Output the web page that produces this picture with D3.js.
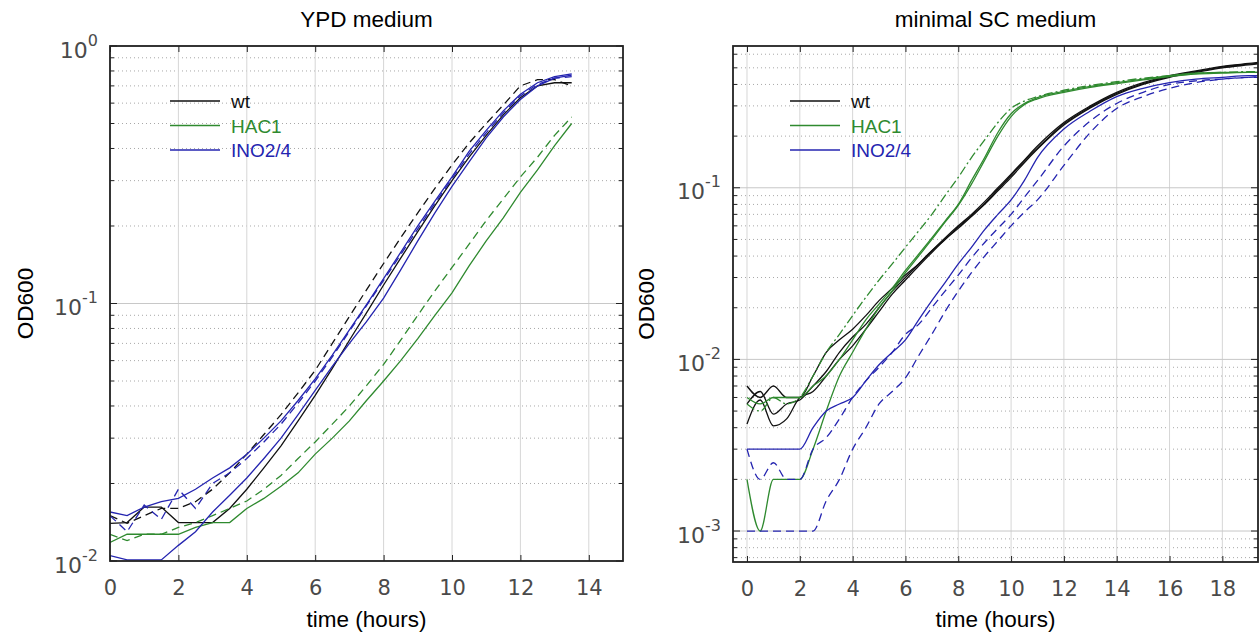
<!DOCTYPE html>
<html>
<head>
<meta charset="utf-8">
<script src="https://cdn.jsdelivr.net/npm/d3@7"></script>
<style>
  body { margin: 0; background: #fff; }
  svg text { font-family: "Liberation Sans", Arial, sans-serif; }
  .tick text { font-family: "DejaVu Sans", sans-serif; fill: #4a4a4a; }
</style>
</head>
<body>
<div id="chart"></div>
<script>
// ---- YPD medium (left panel) ----
const ypdTime = [0, 0.5, 1, 1.5, 2, 2.5, 3, 3.5, 4, 4.5, 5, 5.5, 6, 6.5, 7, 7.5, 8, 8.5, 9, 9.5, 10, 10.5, 11, 11.5, 12, 12.5, 13, 13.5];
const ypdWtSolid = [0.014, 0.0141, 0.0162, 0.0162, 0.0141, 0.0141, 0.0141, 0.016, 0.019, 0.023, 0.028, 0.035, 0.044, 0.056, 0.072, 0.092, 0.118, 0.15, 0.19, 0.24, 0.3, 0.37, 0.45, 0.54, 0.63, 0.7, 0.72, 0.72];
const ypdWtDashed = [0.015, 0.014, 0.015, 0.016, 0.016, 0.017, 0.019, 0.022, 0.026, 0.031, 0.037, 0.045, 0.055, 0.07, 0.089, 0.113, 0.143, 0.18, 0.225, 0.28, 0.345, 0.42, 0.5, 0.59, 0.7, 0.74, 0.74, 0.7];
const ypdHacSolid = [0.0118, 0.0127, 0.0127, 0.0127, 0.0127, 0.0135, 0.0141, 0.0141, 0.016, 0.0175, 0.0195, 0.022, 0.026, 0.03, 0.035, 0.042, 0.05, 0.06, 0.073, 0.09, 0.11, 0.14, 0.175, 0.215, 0.27, 0.33, 0.41, 0.5];
const ypdHacDashed = [0.0127, 0.012, 0.0127, 0.0127, 0.0135, 0.0141, 0.015, 0.016, 0.0171, 0.019, 0.0215, 0.025, 0.029, 0.034, 0.04, 0.048, 0.058, 0.072, 0.09, 0.112, 0.138, 0.17, 0.21, 0.255, 0.31, 0.37, 0.45, 0.53];
const ypdInoSolidA = [0.0105, 0.0101, 0.0101, 0.0101, 0.0115, 0.013, 0.0155, 0.018, 0.021, 0.025, 0.03, 0.037, 0.046, 0.057, 0.07, 0.085, 0.105, 0.135, 0.175, 0.225, 0.285, 0.355, 0.44, 0.53, 0.62, 0.7, 0.75, 0.77];
const ypdInoSolidB = [0.0155, 0.015, 0.0162, 0.017, 0.0175, 0.019, 0.021, 0.023, 0.026, 0.03, 0.035, 0.042, 0.051, 0.063, 0.079, 0.099, 0.125, 0.158, 0.2, 0.25, 0.31, 0.39, 0.47, 0.56, 0.65, 0.72, 0.76, 0.78];
const ypdInoDashed = [0.015, 0.013, 0.0165, 0.0145, 0.019, 0.016, 0.02, 0.022, 0.025, 0.029, 0.034, 0.041, 0.05, 0.062, 0.078, 0.098, 0.123, 0.155, 0.195, 0.245, 0.305, 0.38, 0.46, 0.55, 0.64, 0.71, 0.75, 0.76];

// ---- minimal SC medium (right panel) ----
const scTime = [0, 0.5, 1, 1.5, 2, 2.5, 3, 3.5, 4, 4.5, 5, 5.5, 6, 6.5, 7, 7.5, 8, 8.5, 9, 9.5, 10, 10.5, 11, 12, 13, 14, 15, 16, 17, 18, 19, 19.5];
const scWtA = [0.007, 0.006, 0.007, 0.006, 0.006, 0.008, 0.011, 0.013, 0.015, 0.018, 0.022, 0.026, 0.031, 0.036, 0.043, 0.051, 0.06, 0.07, 0.083, 0.1, 0.12, 0.145, 0.175, 0.24, 0.3, 0.36, 0.41, 0.45, 0.48, 0.51, 0.53, 0.54];
const scWtB = [0.0042, 0.0058, 0.0041, 0.0045, 0.006, 0.0065, 0.008, 0.01, 0.012, 0.015, 0.019, 0.024, 0.029, 0.035, 0.042, 0.05, 0.058, 0.068, 0.08, 0.096, 0.115, 0.14, 0.168, 0.232, 0.292, 0.35, 0.4, 0.44, 0.47, 0.5, 0.52, 0.53];
const scWtC = [0.0055, 0.0065, 0.0048, 0.0055, 0.0058, 0.007, 0.0085, 0.011, 0.0135, 0.016, 0.02, 0.025, 0.03, 0.036, 0.043, 0.05, 0.059, 0.069, 0.081, 0.098, 0.118, 0.143, 0.17, 0.236, 0.296, 0.355, 0.405, 0.445, 0.475, 0.505, 0.525, 0.535];
const scHacA = [0.006, 0.0055, 0.006, 0.006, 0.006, 0.007, 0.008, 0.01, 0.013, 0.017, 0.021, 0.026, 0.033, 0.041, 0.051, 0.064, 0.08, 0.11, 0.15, 0.21, 0.27, 0.31, 0.335, 0.365, 0.39, 0.41, 0.43, 0.45, 0.465, 0.47, 0.47, 0.47];
const scHacB = [0.002, 0.001, 0.002, 0.002, 0.002, 0.003, 0.005, 0.008, 0.011, 0.015, 0.02, 0.025, 0.032, 0.04, 0.05, 0.063, 0.079, 0.105, 0.145, 0.2, 0.26, 0.305, 0.33, 0.36, 0.385, 0.405, 0.425, 0.445, 0.46, 0.465, 0.47, 0.47];
const scHacDashDot = [0.0055, 0.005, 0.006, 0.0055, 0.006, 0.008, 0.011, 0.014, 0.018, 0.023, 0.029, 0.036, 0.045, 0.056, 0.07, 0.09, 0.115, 0.15, 0.19, 0.24, 0.29, 0.32, 0.34, 0.37, 0.395, 0.415, 0.435, 0.45, 0.465, 0.47, 0.475, 0.475];
const scInoSolid = [0.003, 0.003, 0.003, 0.003, 0.003, 0.004, 0.005, 0.0055, 0.006, 0.0075, 0.0093, 0.011, 0.013, 0.017, 0.022, 0.028, 0.036, 0.045, 0.057, 0.07, 0.085, 0.11, 0.15, 0.22, 0.28, 0.34, 0.38, 0.41, 0.43, 0.44, 0.45, 0.45];
const scInoDashA = [0.003, 0.002, 0.0025, 0.002, 0.002, 0.003, 0.0035, 0.0045, 0.006, 0.0075, 0.009, 0.011, 0.014, 0.016, 0.02, 0.025, 0.031, 0.039, 0.048, 0.058, 0.07, 0.088, 0.11, 0.175, 0.245, 0.31, 0.36, 0.4, 0.42, 0.43, 0.44, 0.44];
const scInoDashB = [0.001, 0.001, 0.001, 0.001, 0.001, 0.001, 0.0015, 0.002, 0.003, 0.004, 0.0055, 0.0065, 0.0078, 0.0105, 0.014, 0.019, 0.025, 0.032, 0.04, 0.049, 0.06, 0.072, 0.085, 0.135, 0.21, 0.29, 0.34, 0.38, 0.41, 0.43, 0.44, 0.445];

const strains = ['wt', 'HAC1', 'INO2/4'];
const strainColors = { 'wt': '#111111', 'HAC1': '#2f8a2f', 'INO2/4': '#2424b0' };
const ypdXTicks = [0, 2, 4, 6, 8, 10, 12, 14];
const scXTicks = [0, 2, 4, 6, 8, 10, 12, 14, 16, 18];
const ypdYTicks = [1e-2, 1e-1, 1];
const scYTicks = [1e-3, 1e-2, 1e-1];

const dashes = { solid: null, dashed: '8,5', dashdot: '9,3,2,3' };

const width = 1260, height = 634;
const svg = d3.select('#chart').append('svg')
  .attr('width', width)
  .attr('height', height);

function drawPanel(p) {
  const x = d3.scaleLinear().domain(p.xDomain).range([p.left, p.right]);
  const y = d3.scaleLog().domain(p.yDomain).range([p.bottom, p.top]);
  const g = svg.append('g');

  // minor dotted y grid
  const minor = [];
  for (let e = -4; e <= 0; e++) {
    for (let m = 2; m <= 9; m++) {
      const v = m * Math.pow(10, e);
      if (v > p.yDomain[0] && v < p.yDomain[1]) minor.push(v);
    }
  }
  g.selectAll('.minor').data(minor).join('line')
    .attr('x1', p.left).attr('x2', p.right)
    .attr('y1', d => y(d)).attr('y2', d => y(d))
    .attr('stroke', '#a8a8a8').attr('stroke-width', 1)
    .attr('stroke-dasharray', '1,3');

  // major grid
  g.selectAll('.vgrid').data(p.xTicks).join('line')
    .attr('x1', d => x(d)).attr('x2', d => x(d))
    .attr('y1', p.top).attr('y2', p.bottom)
    .attr('stroke', '#d6d6d6');
  g.selectAll('.hgrid').data(p.yTicks).join('line')
    .attr('x1', p.left).attr('x2', p.right)
    .attr('y1', d => y(d)).attr('y2', d => y(d))
    .attr('stroke', '#c8c8c8');

  // curves
  const clipId = 'clip-' + p.id;
  svg.append('clipPath').attr('id', clipId)
    .append('rect')
    .attr('x', p.left).attr('y', p.top)
    .attr('width', p.right - p.left).attr('height', p.bottom - p.top);

  const line = d3.line()
    .x(d => x(d[0]))
    .y(d => y(d[1]))
    .curve(p.curve);

  g.append('g').attr('clip-path', `url(#${clipId})`)
    .selectAll('path').data(p.series).join('path')
    .attr('d', s => line(p.time.map((t, i) => [t, s.values[i]])))
    .attr('fill', 'none')
    .attr('stroke', s => strainColors[s.strain])
    .attr('stroke-width', 1.3)
    .attr('stroke-dasharray', s => dashes[s.style]);

  // inward ticks on all four sides
  g.append('g').attr('transform', `translate(0,${p.bottom})`)
    .call(d3.axisBottom(x).tickValues(p.xTicks).tickSize(-6).tickPadding(19).tickFormat(d3.format('d')))
    .call(a => a.select('.domain').remove())
    .call(a => a.selectAll('.tick text').attr('font-size', 21))
    .call(a => a.selectAll('.tick line').attr('stroke', '#222'));
  g.append('g').attr('transform', `translate(0,${p.top})`)
    .call(d3.axisTop(x).tickValues(p.xTicks).tickSize(-6).tickFormat(''))
    .call(a => a.select('.domain').remove())
    .call(a => a.selectAll('.tick line').attr('stroke', '#222'));

  const allY = p.yTicks.concat(minor);
  [p.left, p.right].forEach((xx, k) => {
    const dir = k === 0 ? 1 : -1;
    g.selectAll(null).data(allY).join('line')
      .attr('x1', xx).attr('x2', d => xx + dir * (p.yTicks.includes(d) ? 7 : 4))
      .attr('y1', d => y(d)).attr('y2', d => y(d))
      .attr('stroke', '#222');
  });

  // y labels with superscript exponents
  const yl = g.selectAll('.ylab').data(p.yTicks).join('text')
    .attr('x', p.left - 12)
    .attr('y', d => y(d) + 11.5)
    .attr('text-anchor', 'end')
    .attr('fill', '#4a4a4a')
    .style('font-family', '"DejaVu Sans", sans-serif');
  yl.append('tspan').attr('font-size', 22).text('10');
  yl.append('tspan').attr('font-size', 16).attr('dy', -12)
    .text(d => String(Math.round(Math.log10(d))));

  // frame
  g.append('rect')
    .attr('x', p.left).attr('y', p.top)
    .attr('width', p.right - p.left).attr('height', p.bottom - p.top)
    .attr('fill', 'none').attr('stroke', '#222').attr('stroke-width', 1.8);

  // titles
  g.append('text')
    .attr('x', (p.left + p.right) / 2).attr('y', 27)
    .attr('text-anchor', 'middle').attr('font-size', 22.5)
    .text(p.title);
  g.append('text')
    .attr('x', (p.left + p.right) / 2).attr('y', 627)
    .attr('text-anchor', 'middle').attr('font-size', 22.5)
    .text('time (hours)');
  g.append('text')
    .attr('transform', `translate(${p.ylabX},${(p.top + p.bottom) / 2}) rotate(-90)`)
    .attr('text-anchor', 'middle').attr('font-size', 22.5)
    .text('OD600');

  // legend
  const lg = g.append('g').attr('transform', `translate(${p.legendX},101)`);
  strains.forEach((s, i) => {
    lg.append('line')
      .attr('x1', 0).attr('x2', 50)
      .attr('y1', i * 24.5).attr('y2', i * 24.5)
      .attr('stroke', strainColors[s]).attr('stroke-width', 1.4);
    lg.append('text')
      .attr('x', 61).attr('y', i * 24.5 + 7)
      .attr('font-size', 19)
      .attr('fill', strainColors[s])
      .text(s);
  });
}

drawPanel({
  id: 'ypd', title: 'YPD medium',
  left: 110, right: 623, top: 46, bottom: 561,
  xDomain: [0, 15], yDomain: [0.01, 1],
  xTicks: ypdXTicks, yTicks: ypdYTicks,
  ylabX: 33, legendX: 170,
  curve: d3.curveLinear,
  time: ypdTime,
  series: [
    { strain: 'wt', style: 'solid', values: ypdWtSolid },
    { strain: 'wt', style: 'dashed', values: ypdWtDashed },
    { strain: 'HAC1', style: 'solid', values: ypdHacSolid },
    { strain: 'HAC1', style: 'dashed', values: ypdHacDashed },
    { strain: 'INO2/4', style: 'solid', values: ypdInoSolidA },
    { strain: 'INO2/4', style: 'solid', values: ypdInoSolidB },
    { strain: 'INO2/4', style: 'dashed', values: ypdInoDashed }
  ]
});

drawPanel({
  id: 'sc', title: 'minimal SC medium',
  left: 733, right: 1258, top: 46, bottom: 562,
  xDomain: [-0.53, 19.35], yDomain: [0.00066, 0.67],
  xTicks: scXTicks, yTicks: scYTicks,
  ylabX: 654, legendX: 790,
  curve: d3.curveMonotoneX,
  time: scTime,
  series: [
    { strain: 'wt', style: 'solid', values: scWtA },
    { strain: 'wt', style: 'solid', values: scWtB },
    { strain: 'wt', style: 'solid', values: scWtC },
    { strain: 'HAC1', style: 'solid', values: scHacA },
    { strain: 'HAC1', style: 'solid', values: scHacB },
    { strain: 'HAC1', style: 'dashdot', values: scHacDashDot },
    { strain: 'INO2/4', style: 'solid', values: scInoSolid },
    { strain: 'INO2/4', style: 'dashed', values: scInoDashA },
    { strain: 'INO2/4', style: 'dashed', values: scInoDashB }
  ]
});
</script>
</body>
</html>
